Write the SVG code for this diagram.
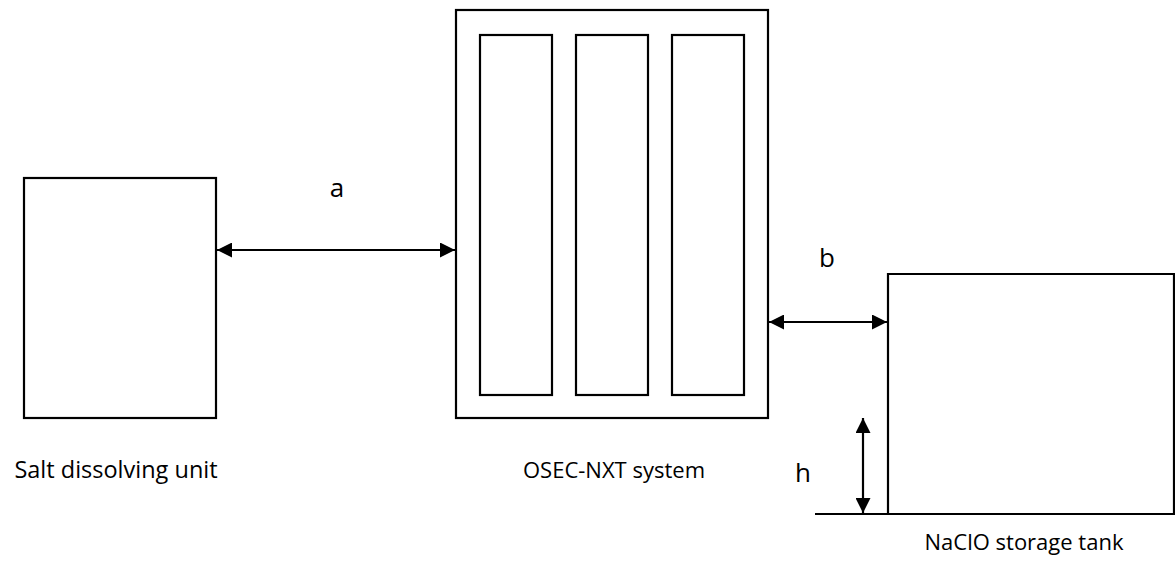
<svg xmlns="http://www.w3.org/2000/svg" width="1175" height="578" viewBox="0 0 1175 578">
<style>
.box{fill:#fff;stroke:#000;stroke-width:2.2}
.ln{fill:none;stroke:#000;stroke-width:2.2}
text{font-family:"Open Sans","Noto Sans","DejaVu Sans",sans-serif;font-size:22px;fill:#000}
.lbl{font-size:26px}
</style>
<defs>
<marker id="ah2" viewBox="0 0 10 10" refX="10" refY="5" markerWidth="15" markerHeight="15" markerUnits="userSpaceOnUse" orient="auto-start-reverse">
<path d="M0,0 L10,5 L0,10 z" fill="#000"/>
</marker>
</defs>
<rect width="1175" height="578" fill="#fff"/>
<g id="salt-unit">
<rect class="box" x="24" y="178" width="192" height="240"/>
<text x="116" y="478" text-anchor="middle" style="font-size:23.5px">Salt dissolving unit</text>
</g>
<g id="osec-system">
<rect class="box" x="456" y="10" width="312" height="408"/>
<rect class="box" x="480" y="35" width="72" height="360"/>
<rect class="box" x="576" y="35" width="72" height="360"/>
<rect class="box" x="672" y="35" width="72" height="360"/>
<text x="614" y="478" text-anchor="middle">OSEC-NXT system</text>
</g>
<g id="storage-tank">
<path class="ln" d="M888,514 V274 H1174 V514"/>
<text x="1024" y="550" text-anchor="middle">NaClO storage tank</text>
</g>
<g id="connectors">
<line class="ln" x1="217" y1="250" x2="455" y2="250" marker-start="url(#ah2)" marker-end="url(#ah2)"/>
<line class="ln" x1="769" y1="322" x2="887" y2="322" marker-start="url(#ah2)" marker-end="url(#ah2)"/>
<line class="ln" x1="863" y1="418" x2="863" y2="513" marker-start="url(#ah2)" marker-end="url(#ah2)"/>
<line class="ln" x1="815" y1="514" x2="1175" y2="514"/>
<text class="lbl" x="337" y="197" text-anchor="middle">a</text>
<text class="lbl" x="827" y="267" text-anchor="middle">b</text>
<text class="lbl" x="803" y="482" text-anchor="middle">h</text>
</g>
</svg>
